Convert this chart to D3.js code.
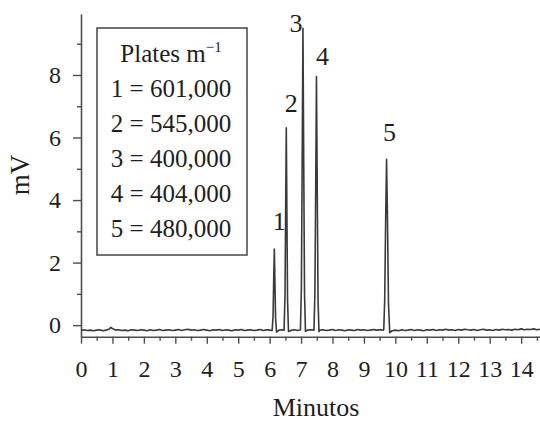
<!DOCTYPE html>
<html>
<head>
<meta charset="utf-8">
<script src="https://cdn.jsdelivr.net/npm/d3@7"></script>
<style>
  body { margin: 0; background: #fff; }
  svg { display: block; }
</style>
</head>
<body>
<div id="container"></div>
<script>
// chromatogram trace: [minutes, mV]
const baselineA = [
  [0.0,-0.17],[0.1,-0.15],[0.2,-0.17],[0.3,-0.16],[0.4,-0.18],[0.5,-0.16],[0.6,-0.15],[0.7,-0.18],
  [0.8,-0.16],[0.9,-0.12],[0.95,-0.07],[1.0,-0.11],[1.1,-0.16],[1.2,-0.15],[1.3,-0.17],[1.4,-0.16],
  [1.5,-0.18],[1.6,-0.15],[1.7,-0.16],[1.8,-0.17],[1.9,-0.15],[2.0,-0.16],[2.1,-0.18],[2.2,-0.15],
  [2.3,-0.17],[2.4,-0.16],[2.5,-0.14],[2.6,-0.17],[2.7,-0.16],[2.8,-0.15],[2.9,-0.17],[3.0,-0.16],
  [3.1,-0.14],[3.2,-0.17],[3.3,-0.15],[3.4,-0.13],[3.5,-0.16],[3.6,-0.15],[3.7,-0.17],[3.8,-0.16],
  [3.9,-0.14],[4.0,-0.16],[4.1,-0.18],[4.2,-0.15],[4.3,-0.16],[4.4,-0.14],[4.5,-0.17],[4.6,-0.15],
  [4.7,-0.16],[4.8,-0.18],[4.9,-0.15],[5.0,-0.16],[5.1,-0.14],[5.2,-0.17],[5.3,-0.16],[5.4,-0.15],
  [5.5,-0.17],[5.6,-0.16],[5.7,-0.14],[5.8,-0.17],[5.9,-0.15],[6.0,-0.16]
];
const peak1 = [[6.08,-0.17],[6.11,0.3],[6.13,1.5],[6.15,2.43],[6.17,1.3],[6.19,0.2],[6.22,-0.22],[6.3,-0.16]];
const peak2 = [[6.4,-0.15],[6.46,-0.16],[6.49,1.0],[6.51,3.8],[6.53,6.31],[6.55,3.5],[6.57,0.8],[6.6,-0.2],[6.7,-0.16],[6.8,-0.15]];
const peak3 = [[6.9,-0.17],[6.98,-0.15],[7.01,1.2],[7.04,6.0],[7.06,9.49],[7.08,6.0],[7.11,1.0],[7.14,-0.2],[7.2,-0.16],[7.3,-0.15]];
const peak4 = [[7.41,-0.16],[7.44,1.0],[7.47,5.0],[7.49,7.95],[7.51,5.0],[7.54,0.8],[7.57,-0.21],[7.6,-0.16]];
const baselineB = [
  [7.7,-0.15],[7.8,-0.17],[7.9,-0.16],[8.0,-0.14],[8.1,-0.17],[8.2,-0.15],[8.3,-0.16],[8.4,-0.18],
  [8.5,-0.15],[8.6,-0.16],[8.7,-0.17],[8.8,-0.14],[8.9,-0.16],[9.0,-0.15],[9.1,-0.17],[9.2,-0.16],
  [9.3,-0.14],[9.4,-0.16],[9.5,-0.15],[9.6,-0.16]
];
const peak5 = [[9.63,-0.15],[9.66,0.8],[9.69,3.3],[9.72,5.30],[9.75,3.3],[9.78,0.7],[9.82,-0.24],[9.9,-0.18]];
const baselineC = [
  [10.0,-0.16],[10.1,-0.18],[10.2,-0.15],[10.3,-0.17],[10.4,-0.16],[10.5,-0.14],[10.6,-0.17],[10.7,-0.15],
  [10.8,-0.16],[10.9,-0.18],[11.0,-0.15],[11.1,-0.16],[11.2,-0.14],[11.3,-0.17],[11.4,-0.15],[11.5,-0.16],
  [11.6,-0.13],[11.7,-0.16],[11.8,-0.15],[11.9,-0.17],[12.0,-0.14],[12.1,-0.16],[12.2,-0.13],[12.3,-0.15],
  [12.4,-0.16],[12.5,-0.14],[12.6,-0.17],[12.7,-0.15],[12.8,-0.13],[12.9,-0.16],[13.0,-0.15],[13.1,-0.17],
  [13.2,-0.14],[13.3,-0.16],[13.4,-0.13],[13.5,-0.15],[13.6,-0.14],[13.7,-0.16],[13.8,-0.13],[13.9,-0.15],
  [14.0,-0.12],[14.1,-0.15],[14.2,-0.13],[14.3,-0.14],[14.4,-0.12],[14.5,-0.15],[14.6,-0.13]
];

const peakNames = ["1", "2", "3", "4", "5"];
const peakTimes = [6.15, 6.53, 7.06, 7.49, 9.72];
const peakHeights = [2.43, 6.31, 9.49, 7.95, 5.30];
const labelDx = [5, 5, -7, 6, 3];
const labelDy = [-19, -16, 4, -12, -18];

const legendTitle = "Plates m";
const legendLines = ["1 = 601,000", "2 = 545,000", "3 = 400,000", "4 = 404,000", "5 = 480,000"];

const xMajor = d3.range(0, 15, 1);
const xMinor = d3.range(0.5, 14.6, 1);
const yMajor = [0, 2, 4, 6, 8];
const yMinor = [1, 3, 5, 7, 9];

const width = 540, height = 421;
const font = '"Liberation Serif", "Times New Roman", serif';
const trace = [].concat(baselineA, peak1, peak2, peak3, peak4, baselineB, peak5, baselineC);

const svg = d3.select("#container").append("svg")
    .attr("width", width)
    .attr("height", height);

const x = d3.scaleLinear().domain([0, 14.6]).range([81, 540]);
const y = d3.scaleLinear().domain([-0.37, 9.95]).range([336.7, 14]);

const axisColor = "#4d4d4d";
const textColor = "#1e1e1e";

// x axis
const xAxis = svg.append("g").attr("transform", `translate(0,${y(-0.37)})`);
xAxis.call(d3.axisBottom(x).tickValues(xMajor).tickSize(7).tickSizeOuter(0).tickFormat(d3.format("d")));
xAxis.append("g").call(d3.axisBottom(x).tickValues(xMinor).tickSize(4).tickFormat(""))
    .select(".domain").remove();
xAxis.selectAll(".domain").attr("stroke", axisColor).attr("stroke-width", 1.6);
xAxis.selectAll(".tick line").attr("stroke", axisColor).attr("stroke-width", 1.4);
xAxis.selectAll(".tick text")
    .attr("fill", textColor)
    .style("font-family", font)
    .style("font-size", "24px")
    .attr("y", 40)
    .attr("dy", 0);

// y axis
const yAxis = svg.append("g").attr("transform", `translate(${x(0)},0)`);
yAxis.call(d3.axisLeft(y).tickValues(yMajor).tickSize(8).tickSizeOuter(0).tickFormat(d3.format("d")));
yAxis.append("g").call(d3.axisLeft(y).tickValues(yMinor).tickSize(4).tickFormat(""))
    .select(".domain").remove();
yAxis.selectAll(".domain").attr("stroke", axisColor).attr("stroke-width", 1.6);
yAxis.selectAll(".tick line").attr("stroke", axisColor).attr("stroke-width", 1.4);
yAxis.selectAll(".tick text")
    .attr("fill", textColor)
    .style("font-family", font)
    .style("font-size", "24px")
    .attr("x", -20);

// trace
const line = d3.line().x(d => x(d[0])).y(d => y(d[1]));
svg.append("path")
    .datum(trace)
    .attr("fill", "none")
    .attr("stroke", "#3a3a3a")
    .attr("stroke-width", 1.6)
    .attr("stroke-linejoin", "round")
    .attr("d", line);

// peak labels
svg.selectAll("text.peak")
    .data(peakNames)
    .join("text")
    .attr("class", "peak")
    .attr("x", (d, i) => x(peakTimes[i]) + labelDx[i])
    .attr("y", (d, i) => y(peakHeights[i]) + labelDy[i])
    .attr("text-anchor", "middle")
    .attr("fill", textColor)
    .style("font-family", font)
    .style("font-size", "26px")
    .text(d => d);

// axis titles
svg.append("text")
    .attr("x", 316)
    .attr("y", 416)
    .attr("text-anchor", "middle")
    .attr("fill", textColor)
    .style("font-family", font)
    .style("font-size", "26px")
    .text("Minutos");

svg.append("text")
    .attr("transform", "translate(29,175) rotate(-90)")
    .attr("text-anchor", "middle")
    .attr("fill", textColor)
    .style("font-family", font)
    .style("font-size", "27px")
    .text("mV");

// legend
const legend = svg.append("g");
legend.append("rect")
    .attr("x", 97)
    .attr("y", 28)
    .attr("width", 150)
    .attr("height", 227)
    .attr("fill", "#fff")
    .attr("stroke", "#444")
    .attr("stroke-width", 1.5);

const title = legend.append("text")
    .attr("x", 171)
    .attr("y", 62)
    .attr("text-anchor", "middle")
    .attr("fill", textColor)
    .style("font-family", font)
    .style("font-size", "25px");
title.append("tspan").text(legendTitle);
title.append("tspan")
    .attr("dy", -10)
    .style("font-size", "15px")
    .text("\u22121");

legend.selectAll("text.entry")
    .data(legendLines)
    .join("text")
    .attr("class", "entry")
    .attr("x", 171)
    .attr("y", (d, i) => 97 + i * 35)
    .attr("text-anchor", "middle")
    .attr("fill", textColor)
    .style("font-family", font)
    .style("font-size", "25px")
    .text(d => d);
</script>
</body>
</html>
